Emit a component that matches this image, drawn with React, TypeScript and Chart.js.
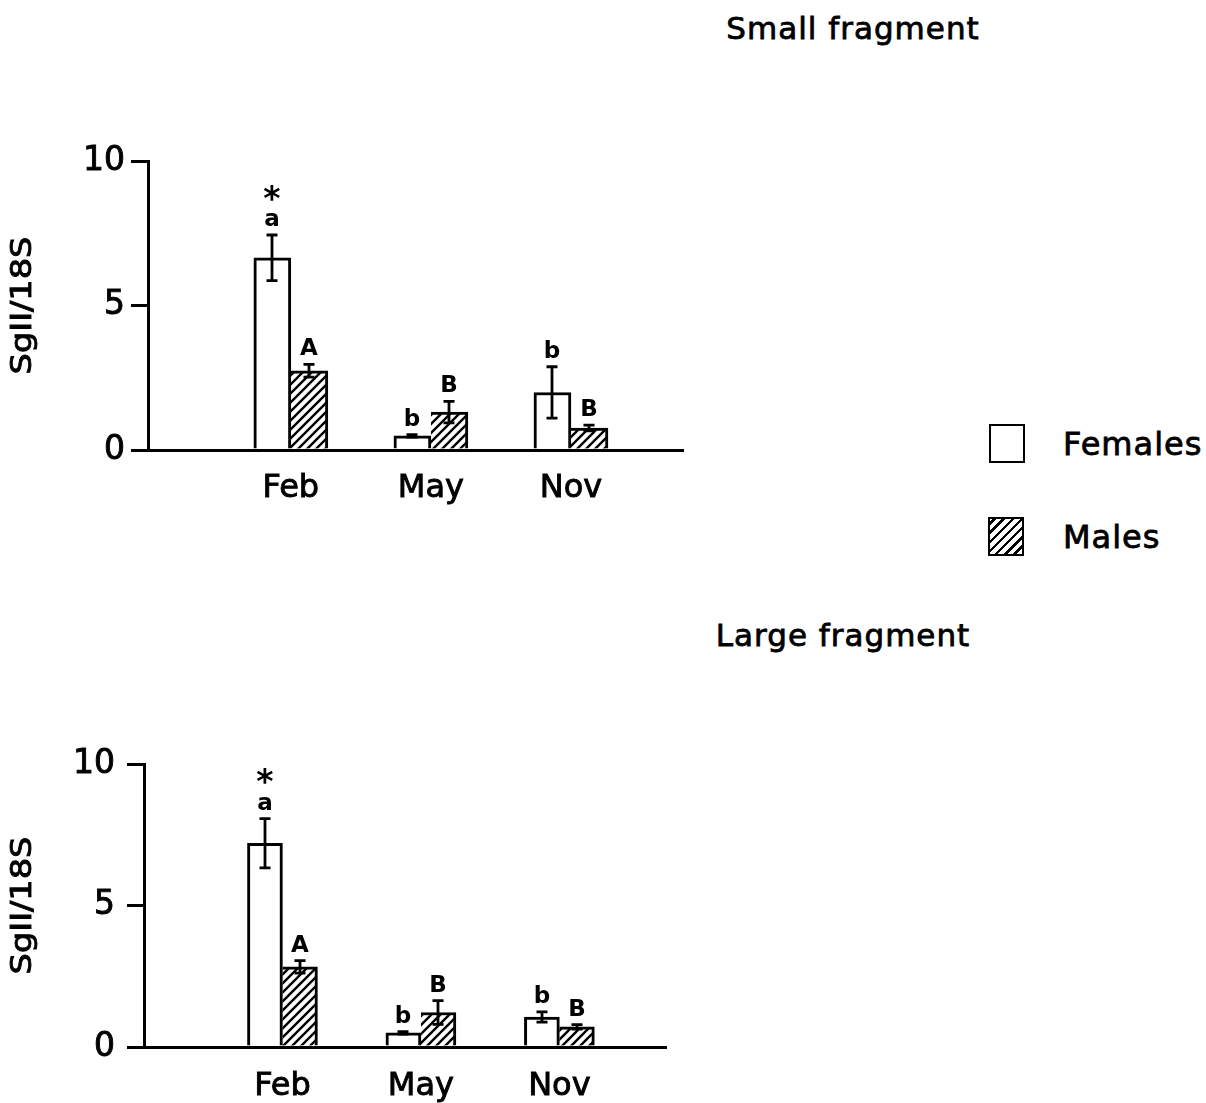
import React, { useEffect, useRef } from 'react';
import { Chart, registerables } from 'chart.js';

Chart.register(...registerables);

const FONT = '"DejaVu Sans", sans-serif';

// ---- data ----
const months = ['Feb', 'May', 'Nov'];
const monthPositions = [1, 2, 3];
const yTickValues = [0, 5, 10];
const yAxisTitle = 'SgII/18S';
const seriesNames = ['Females', 'Males'];
const panelTitles = ['Small fragment', 'Large fragment'];

const smallFemaleMeans = [6.65, 0.49, 1.99];
const smallFemaleErrors = [0.79, 0.04, 0.89];
const smallMaleMeans = [2.74, 1.31, 0.76];
const smallMaleErrors = [0.22, 0.37, 0.1];
const smallFemaleLetters = ['a', 'b', 'b'];
const smallMaleLetters = ['A', 'B', 'B'];
const smallFemaleStars = ['*', '', ''];

const largeFemaleMeans = [7.2, 0.5, 1.06];
const largeFemaleErrors = [0.87, 0.04, 0.18];
const largeMaleMeans = [2.83, 1.22, 0.71];
const largeMaleErrors = [0.22, 0.42, 0.08];
const largeFemaleLetters = ['a', 'b', 'b'];
const largeMaleLetters = ['A', 'B', 'B'];
const largeFemaleStars = ['*', '', ''];

function makeHatch(ctx: CanvasRenderingContext2D) {
  const s = 9;
  const c = document.createElement('canvas');
  c.width = s;
  c.height = s;
  const g = c.getContext('2d')!;
  g.fillStyle = '#fff';
  g.fillRect(0, 0, s, s);
  g.strokeStyle = '#000';
  g.lineWidth = 2.4;
  g.beginPath();
  g.moveTo(-1, s + 1);
  g.lineTo(s + 1, -1);
  g.moveTo(-3, 3);
  g.lineTo(3, -3);
  g.moveTo(s - 3, s + 3);
  g.lineTo(s + 3, s - 3);
  g.stroke();
  return ctx.createPattern(c, 'repeat')!;
}

type PanelProps = {
  top: number;
  width: number;
  height: number;
  chartTop: number;
  chartBottom: number;
  axisLeft: number;
  axisRight: number;
  xMin: number;
  xMax: number;
  barWidth: number;
  labelPad: number;
  tickPad: number;
  females: number[];
  femaleErr: number[];
  males: number[];
  maleErr: number[];
  fLetters: string[];
  mLetters: string[];
  stars: string[];
};

function Panel(p: PanelProps) {
  const ref = useRef<HTMLCanvasElement>(null);
  useEffect(() => {
    const canvas = ref.current!;
    const ctx = canvas.getContext('2d')!;
    const hatch = makeHatch(ctx);
    const groups = [
      { means: p.females, errs: p.femaleErr, letters: p.fLetters, stars: p.stars },
      { means: p.males, errs: p.maleErr, letters: p.mLetters, stars: [] as string[] },
    ];
    const annot = {
      id: 'annot',
      afterDatasetsDraw(chart: any) {
        const c = chart.ctx as CanvasRenderingContext2D;
        const ys = chart.scales.y;
        groups.forEach((g, di) => {
          const meta = chart.getDatasetMeta(di);
          meta.data.forEach((el: any, i: number) => {
            const x = Math.round(el.x);
            const yHi = ys.getPixelForValue(g.means[i] + g.errs[i]);
            const yLo = ys.getPixelForValue(g.means[i] - g.errs[i]);
            c.save();
            c.strokeStyle = '#000';
            c.lineWidth = 2.8;
            c.beginPath();
            c.moveTo(x, yHi);
            c.lineTo(x, yLo);
            c.moveTo(x - 5.5, yHi);
            c.lineTo(x + 5.5, yHi);
            c.moveTo(x - 5.5, yLo);
            c.lineTo(x + 5.5, yLo);
            c.stroke();
            c.fillStyle = '#000';
            c.textAlign = 'center';
            c.textBaseline = 'middle';
            c.font = `bold 23px ${FONT}`;
            c.fillText(g.letters[i], x, yHi - 15);
            if (g.stars[i]) {
              c.font = `bold 33px ${FONT}`;
              c.fillText(g.stars[i], x, yHi - 34);
            }
            c.restore();
          });
        });
      },
      afterDraw(chart: any) {
        const c = chart.ctx as CanvasRenderingContext2D;
        const a = chart.chartArea;
        c.save();
        c.translate(24, (a.top + a.bottom) / 2);
        c.rotate(-Math.PI / 2);
        c.scale(1.2, 1);
        c.font = `28px ${FONT}`;
        c.fillStyle = '#000';
        c.strokeStyle = '#000';
        c.lineWidth = 0.9;
        c.textAlign = 'center';
        c.textBaseline = 'middle';
        c.fillText(yAxisTitle, 0, 0);
        c.strokeText(yAxisTitle, 0, 0);
        c.restore();
      },
    };
    const bw = 3;
    const chart = new Chart(canvas, {
      type: 'bar',
      data: {
        datasets: [
          {
            label: seriesNames[0],
            data: monthPositions.map((x, i) => ({ x, y: p.females[i] })),
            backgroundColor: '#fff',
            borderColor: '#000',
            borderWidth: { top: bw, left: bw, right: bw, bottom: 0 },
            borderSkipped: false,
            barThickness: p.barWidth,
          },
          {
            label: seriesNames[1],
            data: monthPositions.map((x, i) => ({ x, y: p.males[i] })),
            backgroundColor: hatch,
            borderColor: '#000',
            borderWidth: { top: bw, left: 0, right: bw, bottom: 0 },
            borderSkipped: false,
            barThickness: p.barWidth,
          },
        ],
      } as any,
      options: {
        animation: false,
        responsive: false,
        maintainAspectRatio: false,
        layout: {
          padding: { top: p.chartTop, right: p.width - p.axisRight, left: 0, bottom: 0 },
        },
        plugins: {
          legend: { display: false },
          tooltip: { enabled: false },
          title: { display: false },
        },
        scales: {
          x: {
            type: 'linear',
            min: p.xMin,
            max: p.xMax,
            offset: false,
            afterBuildTicks: (s: any) => {
              s.ticks = monthPositions.map((v) => ({ value: v }));
            },
            afterFit: (s: any) => {
              s.height = p.height - p.chartBottom;
            },
            grid: { display: false },
            border: { display: true, color: '#000', width: 3 },
            ticks: {
              autoSkip: false,
              maxRotation: 0,
              color: '#000',
              textStrokeColor: '#000',
              textStrokeWidth: 0.9,
              padding: p.labelPad,
              font: { family: FONT, size: 32 },
              callback: (v: any) => {
                const i = monthPositions.indexOf(Number(v));
                return i >= 0 ? months[i] : '';
              },
            },
          },
          y: {
            min: 0,
            max: 10,
            afterBuildTicks: (s: any) => {
              s.ticks = yTickValues.map((v) => ({ value: v }));
            },
            afterFit: (s: any) => {
              s.width = p.axisLeft;
            },
            grid: {
              drawOnChartArea: false,
              drawTicks: true,
              tickLength: 17,
              color: '#000',
              lineWidth: 3,
            },
            border: { display: true, color: '#000', width: 3 },
            ticks: {
              color: '#000',
              textStrokeColor: '#000',
              textStrokeWidth: 0.9,
              padding: p.tickPad,
              font: { family: FONT, size: 33 },
            },
          },
        },
      } as any,
      plugins: [annot],
    });
    return () => chart.destroy();
  }, []);
  return (
    <canvas
      ref={ref}
      width={p.width}
      height={p.height}
      style={{ position: 'absolute', left: 0, top: p.top, width: p.width, height: p.height }}
    />
  );
}

function Label(props: { text: string; x: number; capCenter: number; size: number; align?: 'left' | 'center'; spacing?: number }) {
  const { text, x, capCenter, size, align = 'left', spacing = 0 } = props;
  const capOffset = (size - size * 1.164) / 2 + 0.928 * size - 0.3645 * size;
  return (
    <div
      style={{
        position: 'absolute',
        left: x,
        top: capCenter - capOffset,
        fontFamily: FONT,
        fontSize: size,
        lineHeight: `${size}px`,
        letterSpacing: spacing,
        whiteSpace: 'nowrap',
        color: '#000',
        WebkitTextStroke: '0.8px #000',
        transform: align === 'center' ? 'translateX(-50%)' : undefined,
      }}
    >
      {text}
    </div>
  );
}

export default function App() {
  return (
    <div
      style={{
        position: 'absolute',
        left: 0,
        top: 0,
        width: 1206,
        height: 1103,
        background: '#fff',
        overflow: 'hidden',
      }}
    >
      <Label text={panelTitles[0]} x={853} capCenter={28} size={31} align="center" spacing={1} />
      <Label text={panelTitles[1]} x={843} capCenter={635} size={31} align="center" spacing={1} />
      <Panel
        top={0}
        width={720}
        height={530}
        chartTop={161}
        chartBottom={450}
        axisLeft={148}
        axisRight={683}
        xMin={-0.02}
        xMax={3.8}
        barWidth={37}
        labelPad={11}
        tickPad={6}
        females={smallFemaleMeans}
        femaleErr={smallFemaleErrors}
        males={smallMaleMeans}
        maleErr={smallMaleErrors}
        fLetters={smallFemaleLetters}
        mLetters={smallMaleLetters}
        stars={smallFemaleStars}
      />
      <Panel
        top={600}
        width={720}
        height={503}
        chartTop={164}
        chartBottom={447}
        axisLeft={144}
        axisRight={666}
        xMin={0}
        xMax={3.77}
        barWidth={35}
        labelPad={12}
        tickPad={12}
        females={largeFemaleMeans}
        femaleErr={largeFemaleErrors}
        males={largeMaleMeans}
        maleErr={largeMaleErrors}
        fLetters={largeFemaleLetters}
        mLetters={largeMaleLetters}
        stars={largeFemaleStars}
      />
      <div
        style={{
          position: 'absolute',
          left: 989,
          top: 424,
          width: 36,
          height: 39,
          boxSizing: 'border-box',
          border: '2.5px solid #000',
          background: '#fff',
        }}
      />
      <Label text={seriesNames[0]} x={1063} capCenter={443} size={32} spacing={1} />
      <div
        style={{
          position: 'absolute',
          left: 988,
          top: 517,
          width: 36,
          height: 39,
          boxSizing: 'border-box',
          border: '2.5px solid #000',
          background: 'repeating-linear-gradient(-45deg, #fff 0px, #fff 4px, #000 4px, #000 6.5px)',
        }}
      />
      <Label text={seriesNames[1]} x={1063} capCenter={536} size={32} spacing={1} />
    </div>
  );
}
